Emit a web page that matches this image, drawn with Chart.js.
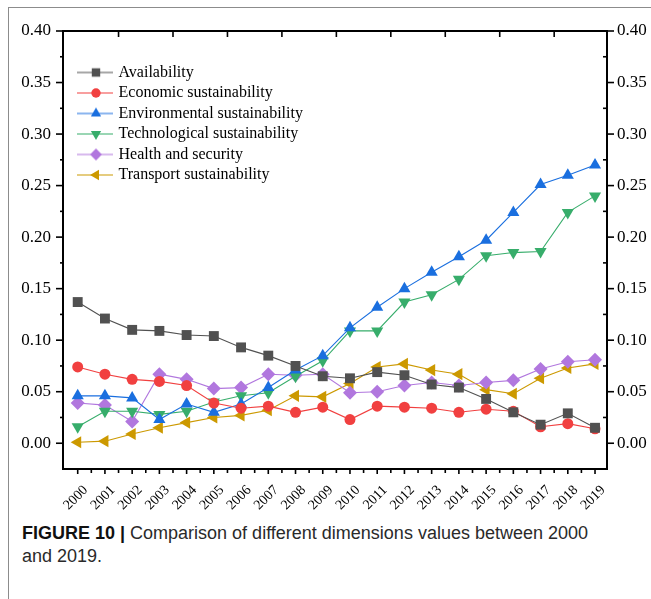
<!DOCTYPE html>
<html>
<head>
<meta charset="utf-8">
<script src="https://cdn.jsdelivr.net/npm/chart.js@4.4.1/dist/chart.umd.min.js"></script>
<style>
  body { margin: 0; background: #fff; }
  .page { position: relative; width: 651px; height: 599px; overflow: hidden; background: #fff; }
  .frame { position: absolute; left: 8px; top: 7px; width: 700px; height: 700px;
           border-top: 1.5px solid #8c8c8c; border-left: 1.5px solid #8c8c8c; }
  #chart { position: absolute; left: 0; top: 0; }
  .caption { position: absolute; left: 22px; top: 522px; width: 580px;
             font-family: "Liberation Sans", Arial, sans-serif; font-size: 18px;
             line-height: 23px; color: #2a2a2a; }
  .caption b { font-weight: bold; color: #111; }
</style>
</head>
<body>
<div class="page">
  <div class="frame"></div>
  <canvas id="chart" width="651" height="520"></canvas>
  <div class="caption"><b>FIGURE 10 |</b> Comparison of different dimensions values between 2000 and 2019.</div>
</div>
<script>
const years = [2000, 2001, 2002, 2003, 2004, 2005, 2006, 2007, 2008, 2009,
               2010, 2011, 2012, 2013, 2014, 2015, 2016, 2017, 2018, 2019];

const availability  = [0.137, 0.121, 0.110, 0.109, 0.105, 0.104, 0.093, 0.085, 0.075, 0.065,
                       0.063, 0.069, 0.066, 0.057, 0.054, 0.043, 0.030, 0.018, 0.029, 0.015];
const economic      = [0.074, 0.067, 0.062, 0.060, 0.056, 0.039, 0.034, 0.036, 0.030, 0.035,
                       0.023, 0.036, 0.035, 0.034, 0.030, 0.033, 0.031, 0.016, 0.019, 0.014];
const environmental = [0.046, 0.046, 0.044, 0.023, 0.038, 0.030, 0.038, 0.054, 0.071, 0.085,
                       0.112, 0.132, 0.150, 0.166, 0.181, 0.197, 0.224, 0.251, 0.260, 0.270];
const technological = [0.016, 0.031, 0.031, 0.028, 0.031, 0.040, 0.046, 0.049, 0.065, 0.080,
                       0.109, 0.109, 0.137, 0.144, 0.159, 0.182, 0.185, 0.186, 0.224, 0.240];
const health        = [0.039, 0.037, 0.021, 0.067, 0.062, 0.053, 0.054, 0.067, 0.066, 0.067,
                       0.049, 0.050, 0.056, 0.059, 0.056, 0.059, 0.061, 0.072, 0.079, 0.081];
const transport     = [0.001, 0.002, 0.009, 0.015, 0.020, 0.025, 0.027, 0.032, 0.046, 0.045,
                       0.058, 0.074, 0.077, 0.071, 0.067, 0.052, 0.048, 0.063, 0.073, 0.077];

const yTicks = [0, 0.05, 0.10, 0.15, 0.20, 0.25, 0.30, 0.35, 0.40];
const yMinorTicks = [0.025, 0.075, 0.125, 0.175, 0.225, 0.275, 0.325, 0.375];
const topTicks = [2001.5, 2003.5, 2005.5, 2007.5, 2009.5, 2011.5, 2013.5, 2015.5, 2017.5];

const X_MIN = 1999.46, X_MAX = 2019.44;
const Y_MIN = -0.025, Y_MAX = 0.40;
const SERIF = '"Liberation Serif", "Times New Roman", serif';

const series = [
  { label: 'Availability', data: availability, color: '#515151', style: 'rect', radius: 7, rotation: 0 },
  { label: 'Economic sustainability', data: economic, color: '#F14040', style: 'circle', radius: 5.5, rotation: 0 },
  { label: 'Environmental sustainability', data: environmental, color: '#1A6FDF', style: 'triangle', radius: 7, rotation: 0 },
  { label: 'Technological sustainability', data: technological, color: '#37AD6B', style: 'triangle', radius: 7, rotation: 180 },
  { label: 'Health and security', data: health, color: '#B177DE', style: 'rectRot', radius: 7, rotation: 0 },
  { label: 'Transport sustainability', data: transport, color: '#CC9900', style: 'triangle', radius: 7, rotation: -90 }
];

// small line + marker glyph for the legend
function legendGlyph(s) {
  const c = document.createElement('canvas');
  c.width = 60; c.height = 16;
  const g = c.getContext('2d');
  g.strokeStyle = s.color;
  g.lineWidth = 1.2;
  g.beginPath();
  g.moveTo(18, 8);
  g.lineTo(54, 8);
  g.stroke();
  g.fillStyle = s.color;
  Chart.helpers.drawPoint(g, { pointStyle: s.style, radius: s.radius * 0.85, rotation: s.rotation, borderWidth: 0 }, 37, 8);
  return c;
}

const datasets = series.map(s => ({
  label: s.label,
  data: years.map((yr, i) => ({ x: yr, y: s.data[i] })),
  borderColor: s.color,
  backgroundColor: s.color,
  borderWidth: 1.1,
  pointStyle: s.style,
  pointRadius: s.radius,
  pointRotation: s.rotation,
  pointBorderWidth: 0,
  pointBackgroundColor: s.color,
  tension: 0
}));

const tickMarks = {
  id: 'tickMarks',
  afterDraw(chart) {
    const { ctx, scales: { x, y } } = chart;
    const area = chart.chartArea;
    ctx.save();
    ctx.strokeStyle = '#000';
    ctx.lineWidth = 1.6;
    const seg = (x1, y1, x2, y2) => { ctx.beginPath(); ctx.moveTo(x1, y1); ctx.lineTo(x2, y2); ctx.stroke(); };
    years.forEach(v => { const p = x.getPixelForValue(v); seg(p, area.bottom, p, area.bottom + 5); });
    years.slice(1).forEach(v => { const p = x.getPixelForValue(v - 0.5); seg(p, area.bottom, p, area.bottom + 4); });
    topTicks.forEach(v => { const p = x.getPixelForValue(v); seg(p, area.top, p, area.top + 6); });
    yTicks.forEach(v => {
      const p = y.getPixelForValue(v);
      seg(area.left, p, area.left - 7, p);
      seg(area.right, p, area.right + 7, p);
    });
    yMinorTicks.forEach(v => {
      const p = y.getPixelForValue(v);
      seg(area.left, p, area.left - 3, p);
      seg(area.right, p, area.right - 4, p);
    });
    ctx.restore();
  }
};

Chart.defaults.font.family = SERIF;
Chart.defaults.color = '#000';

new Chart(document.getElementById('chart'), {
  type: 'line',
  data: { datasets: datasets },
  options: {
    responsive: false,
    animation: false,
    layout: { padding: { top: 31, left: 0, right: 0, bottom: 0 } },
    plugins: {
      tooltip: { enabled: false },
      legend: {
        position: 'chartArea',
        align: 'start',
        title: { display: true, text: ' ', font: { family: SERIF, size: 10, lineHeight: 1 }, padding: { top: 26, bottom: 24 } },
        labels: {
          usePointStyle: true,
          pointStyleWidth: 43,
          padding: 4.5,
          color: '#000',
          font: { family: SERIF, size: 16 },
          generateLabels: () => series.map((s, i) => ({
            text: s.label,
            pointStyle: legendGlyph(s),
            fillStyle: s.color,
            strokeStyle: s.color,
            lineWidth: 0,
            rotation: 0,
            datasetIndex: i,
            hidden: false
          }))
        }
      }
    },
    scales: {
      x: {
        type: 'linear',
        position: 'bottom',
        min: X_MIN, max: X_MAX,
        grid: { display: false, drawTicks: false },
        border: { display: true, color: '#000', width: 2 },
        afterBuildTicks: s => { s.ticks = years.map(v => ({ value: v })); },
        afterFit: s => { s.height = 51; },
        ticks: {
          autoSkip: false, minRotation: 45, maxRotation: 45, padding: 13, labelOffset: 8,
          font: { family: SERIF, size: 14 },
          callback: v => String(v)
        }
      },
      x2: {
        type: 'linear',
        position: 'top',
        min: X_MIN, max: X_MAX,
        grid: { display: false, drawTicks: false },
        border: { display: true, color: '#000', width: 2 },
        ticks: { display: false },
        afterFit: s => { s.height = 0; }
      },
      y: {
        type: 'linear',
        position: 'left',
        min: Y_MIN, max: Y_MAX,
        grid: { display: false, drawTicks: false },
        border: { display: true, color: '#000', width: 2 },
        afterBuildTicks: s => { s.ticks = yTicks.map(v => ({ value: v })); },
        afterFit: s => { s.width = 63; },
        ticks: { padding: 12, font: { family: SERIF, size: 17 }, callback: v => v.toFixed(2) }
      },
      y2: {
        type: 'linear',
        position: 'right',
        min: Y_MIN, max: Y_MAX,
        grid: { display: false, drawTicks: false },
        border: { display: true, color: '#000', width: 2 },
        afterBuildTicks: s => { s.ticks = yTicks.map(v => ({ value: v })); },
        afterFit: s => { s.width = 44; },
        ticks: { padding: 10, font: { family: SERIF, size: 17 }, callback: v => v.toFixed(2) }
      }
    }
  },
  plugins: [tickMarks]
});
</script>
</body>
</html>
